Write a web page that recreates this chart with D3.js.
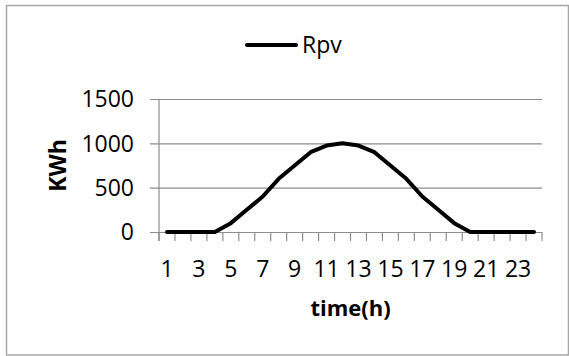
<!DOCTYPE html>
<html>
<head>
<meta charset="utf-8">
<script src="https://cdn.jsdelivr.net/npm/d3@7"></script>
<style>
  body { margin: 0; background: #fff; }
  text { font-family: 'Open Sans', sans-serif; fill: #000; }
</style>
</head>
<body>
<div id="chart"></div>
<script>
const hours = d3.range(1, 25);
const rpvValues = [0, 0, 0, 0, 100, 250, 400, 600, 750, 900, 975, 1000,
                   975, 900, 750, 600, 400, 250, 100, 0, 0, 0, 0, 0];
const yTicks = [0, 500, 1000, 1500];
const xTickLabels = [1, 3, 5, 7, 9, 11, 13, 15, 17, 19, 21, 23];
const seriesName = 'Rpv';

const width = 569;
const height = 356;
const margin = { top: 99, right: 27, bottom: 124, left: 159 };

const svg = d3.select('#chart')
  .append('svg')
  .attr('width', width)
  .attr('height', height);

/* outer frame */
svg.append('rect')
  .attr('x', 6.5).attr('y', 5.5)
  .attr('width', 562).attr('height', 349.5)
  .attr('fill', 'none')
  .attr('stroke', '#a6a6a6')
  .attr('stroke-width', 1.5);

const w = width - margin.left - margin.right;
const h = height - margin.top - margin.bottom;
const group = svg.append('g').attr('transform', 'translate(' + margin.left + ',' + margin.top + ')');

const x = d3.scaleBand().domain(hours).range([0, w]);
const y = d3.scaleLinear().domain([0, 1500]).range([h, 0]);

/* gridlines + left ticks */
group.append('g')
  .call(d3.axisLeft(y).tickValues(yTicks).tickSize(-w).tickFormat(''))
  .call(g => g.select('.domain').remove())
  .call(g => g.selectAll('line').attr('stroke', '#8c8c8c').attr('stroke-width', 1.2).attr('x1', -9));

group.selectAll('.ylab')
  .data(yTicks)
  .enter()
  .append('text')
  .attr('x', -25)
  .attr('y', d => y(d))
  .attr('dy', '0.36em')
  .attr('text-anchor', 'end')
  .style('font-size', '23px')
  .text(d => d);

/* y axis line */
group.append('line')
  .attr('x1', 0).attr('x2', 0)
  .attr('y1', 0).attr('y2', h + 9)
  .attr('stroke', '#8c8c8c').attr('stroke-width', 1.2);

/* x ticks at category boundaries */
const bounds = hours.map(d => x(d)).concat([w]);
group.selectAll('.xtick')
  .data(bounds)
  .enter()
  .append('line')
  .attr('x1', d => d).attr('x2', d => d)
  .attr('y1', h).attr('y2', h + 9)
  .attr('stroke', '#8c8c8c').attr('stroke-width', 1.2);

group.selectAll('.xlab')
  .data(xTickLabels)
  .enter()
  .append('text')
  .attr('x', d => x(d) + x.bandwidth() / 2)
  .attr('y', h + 45)
  .attr('text-anchor', 'middle')
  .style('font-size', '23px')
  .text(d => d);

/* line */
group.append('path')
  .datum(rpvValues)
  .attr('fill', 'none')
  .attr('stroke', '#000')
  .attr('stroke-width', 4)
  .attr('stroke-linejoin', 'round')
  .attr('stroke-linecap', 'round')
  .attr('d', d3.line()
    .x((d, i) => x(hours[i]) + x.bandwidth() / 2)
    .y(d => y(d)));

/* axis titles */
svg.append('text')
  .attr('x', margin.left + w / 2)
  .attr('y', 316)
  .attr('text-anchor', 'middle')
  .style('font-size', '22px')
  .style('font-weight', 'bold')
  .text('time(h)');

svg.append('text')
  .attr('transform', 'translate(66,' + (margin.top + h / 2) + ') rotate(-90)')
  .attr('text-anchor', 'middle')
  .style('font-size', '23px')
  .style('font-weight', 'bold')
  .text('KWh');

/* legend */
svg.append('line')
  .attr('x1', 247).attr('x2', 296)
  .attr('y1', 45).attr('y2', 45)
  .attr('stroke', '#000').attr('stroke-width', 4)
  .attr('stroke-linecap', 'round');

svg.append('text')
  .attr('x', 302)
  .attr('y', 53)
  .style('font-size', '23px')
  .text(seriesName);
</script>
</body>
</html>
